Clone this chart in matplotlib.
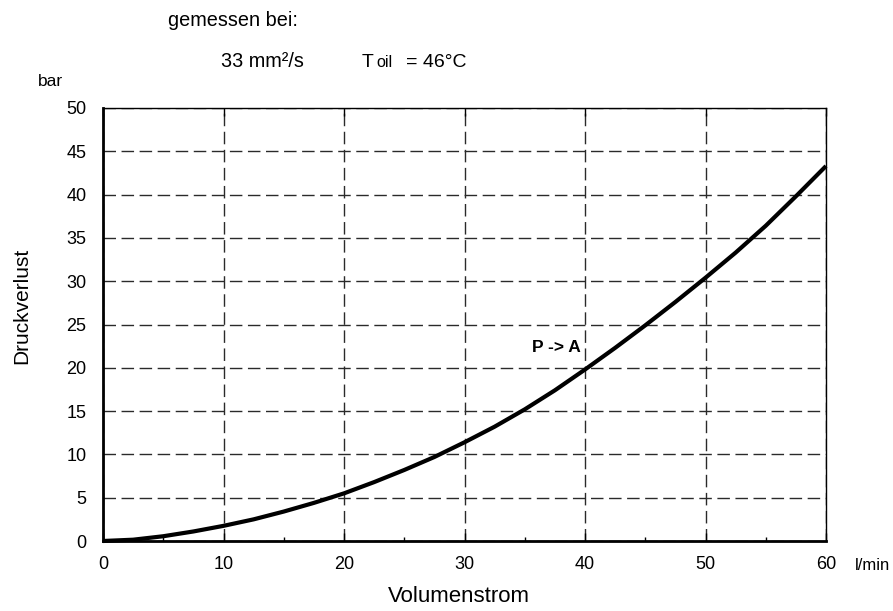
import matplotlib
matplotlib.use("Agg")
import matplotlib.pyplot as plt
from matplotlib.ticker import MultipleLocator

plt.rcParams['font.family'] = ['Liberation Sans', 'DejaVu Sans']

flow = [0, 2.5, 5, 7.5, 10, 12.5, 15, 17.5, 20, 22.5, 25, 27.5, 30,
        32.5, 35, 37.5, 40, 42.5, 45, 47.5, 50, 52.5, 55, 57.5, 60]
pressure = [0, 0.15, 0.55, 1.1, 1.75, 2.5, 3.4, 4.4, 5.5, 6.8, 8.2, 9.7, 11.4,
            13.2, 15.2, 17.4, 19.8, 22.3, 24.9, 27.6, 30.4, 33.3, 36.4, 39.8, 43.3]
x_ticks = [0, 10, 20, 30, 40, 50, 60]
y_ticks = [0, 5, 10, 15, 20, 25, 30, 35, 40, 45, 50]

fig = plt.figure(figsize=(8.93, 6.11), dpi=100)
ax = fig.add_axes([103/893, 1-541/611, (826-103)/893, (541-108)/611])

ax.plot(flow, pressure, color='black', lw=3, solid_capstyle='butt', zorder=3, clip_on=False)
ax.set_xlim(0, 60)
ax.set_ylim(0, 50)
ax.set_xticks(x_ticks)
ax.set_yticks(y_ticks)
ax.xaxis.set_minor_locator(MultipleLocator(5))
ax.grid(True, which='major', ls=(0, (9, 4)), color='#2a2a2a', lw=1)
ax.tick_params(axis='x', which='major', direction='in', length=6, width=1, labelsize=13, pad=11, top=True)
ax.tick_params(axis='x', which='minor', direction='in', length=3, width=1)
ax.tick_params(axis='y', which='major', length=0, labelsize=13, pad=12)
for s in ['left', 'bottom']:
    ax.spines[s].set_linewidth(2)
for s in ['top', 'right']:
    ax.spines[s].set_linewidth(1)

ax.text(35.6, 22.4, 'P -> A', fontsize=12.5, fontweight='bold', ha='left', va='center')

fig.text(38/893, 1-86/611, 'bar', fontsize=12.5, ha='left', va='baseline')
fig.text(855/893, 1-565/611, 'l/min', fontsize=12, ha='left', va='center')
fig.text(22/893, 1-306/611, 'Druckverlust', fontsize=15, rotation=90, ha='center', va='center')
fig.text(459/893, 1-597/611, 'Volumenstrom', fontsize=16, ha='center', va='center')
fig.text(168/893, 1-26/611, 'gemessen bei:', fontsize=14.3, ha='left', va='baseline')
fig.text(221/893, 1-67/611, '33 mm²/s', fontsize=14.3, ha='left', va='baseline')
fig.text(362/893, 1-67/611, 'T', fontsize=14, ha='left', va='baseline')
fig.text(376/893, 1-67/611, 'oil', fontsize=11.5, ha='left', va='baseline')
fig.text(406/893, 1-67/611, '= 46°C', fontsize=14, ha='left', va='baseline')

fig.savefig('out.png', dpi=100)
